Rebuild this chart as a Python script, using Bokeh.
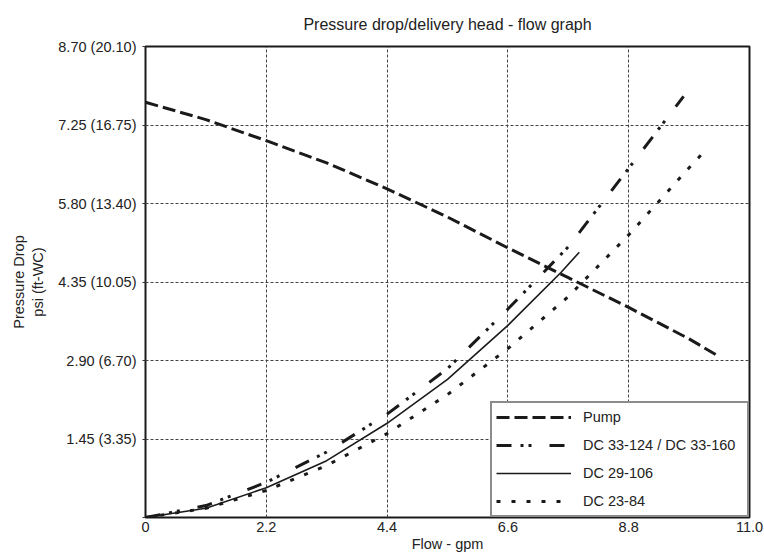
from bokeh.plotting import figure
from bokeh.models import Range1d, FixedTicker, Legend, LegendItem
from bokeh.embed import file_html
from bokeh.resources import INLINE

# ---- data ----
pump_flow = [0, 1.1, 2.2, 3.3, 4.4, 5.5, 6.6, 7.7, 8.8, 9.9, 10.45]
pump_head = [7.67, 7.35, 6.96, 6.55, 6.07, 5.55, 4.98, 4.43, 3.88, 3.30, 2.97]

dc33_flow = [0, 1.1, 2.2, 3.3, 4.4, 5.5, 6.6, 7.7, 8.8, 9.8]
dc33_dp = [0, 0.22, 0.65, 1.21, 1.91, 2.75, 3.85, 5.0, 6.45, 7.78]

dc29_flow = [0, 1.1, 2.2, 3.3, 4.4, 5.5, 6.6, 7.57, 7.9]
dc29_dp = [0, 0.17, 0.55, 1.05, 1.74, 2.55, 3.55, 4.53, 4.90]

dc23_flow = [0, 1.1, 2.2, 3.3, 4.4, 5.5, 6.6, 7.7, 8.8, 9.9, 10.25]
dc23_dp = [0, 0.17, 0.50, 0.96, 1.55, 2.27, 3.12, 4.08, 5.22, 6.46, 6.84]

x_ticks = [0, 2.2, 4.4, 6.6, 8.8, 11.0]
x_tick_labels = ["0", "2.2", "4.4", "6.6", "8.8", "11.0"]
y_ticks = [0, 1.45, 2.90, 4.35, 5.80, 7.25, 8.70]
y_tick_labels = ["", "1.45 (3.35)", "2.90 (6.70)", "4.35 (10.05)",
                 "5.80 (13.40)", "7.25 (16.75)", "8.70 (20.10)"]

series_names = ["Pump", "DC 33-124 / DC 33-160", "DC 29-106", "DC 23-84"]

FONT = "Liberation Sans"
TXT = "#222222"
FS = "14.5px"

p = figure(width=764, height=555, output_backend="svg", toolbar_location=None,
           x_range=Range1d(0, 11.0), y_range=Range1d(0, 8.70),
           min_border_left=145, min_border_right=15, min_border_top=46,
           min_border_bottom=38)

p.title.text = "Pressure drop/delivery head - flow graph"
p.title.align = "center"
p.title.text_font = FONT
p.title.text_font_size = "16px"
p.title.text_font_style = "normal"
p.title.text_color = TXT
p.title.standoff = 27

p.outline_line_color = "#1a1a1a"
p.outline_line_width = 2
p.outline_line_alpha = 1

for ax in (p.xaxis[0], p.yaxis[0]):
    ax.axis_line_color = None
    ax.major_tick_in = 0
    ax.major_tick_out = 0
    ax.minor_tick_line_color = None
    ax.major_label_text_font = FONT
    ax.major_label_text_font_size = FS
    ax.major_label_text_color = TXT
    ax.axis_label_text_font = FONT
    ax.axis_label_text_font_size = FS
    ax.axis_label_text_font_style = "normal"
    ax.axis_label_text_color = TXT

p.xaxis.ticker = FixedTicker(ticks=x_ticks)
p.xaxis.major_label_overrides = {t: l for t, l in zip(x_ticks, x_tick_labels)}
p.xaxis.axis_label = "Flow - gpm"
p.xaxis.major_label_standoff = 4
p.xaxis.axis_label_standoff = 1

p.yaxis.ticker = FixedTicker(ticks=y_ticks)
p.yaxis.major_label_overrides = {t: l for t, l in zip(y_ticks, y_tick_labels)}
p.yaxis.axis_label = "Pressure Drop\npsi (ft-WC)"
p.yaxis.major_tick_out = 3
p.yaxis.major_tick_line_color = "#333333"
p.yaxis.major_label_standoff = 6
p.yaxis.axis_label_standoff = 9

for g in (p.xgrid[0], p.ygrid[0]):
    g.grid_line_color = "#444444"
    g.grid_line_width = 1
    g.grid_line_dash = "3 2"

r_pump = p.line(pump_flow, pump_head, line_color="#1a1a1a", line_width=3,
                line_dash="13 5")
r_33 = p.line(dc33_flow, dc33_dp, line_color="#1a1a1a", line_width=3,
              line_dash="15 9 3 5 3 18")
r_29 = p.line(dc29_flow, dc29_dp, line_color="#1a1a1a", line_width=1.6)
r_23 = p.line(dc23_flow, dc23_dp, line_color="#1a1a1a", line_width=3,
              line_dash="4 11")

legend = Legend(items=[LegendItem(label=n, renderers=[r]) for n, r in
                       zip(series_names, [r_pump, r_33, r_29, r_23])],
                location="bottom_right")
legend.margin = 0
legend.padding = 4
legend.spacing = 8
legend.glyph_width = 75
legend.glyph_height = 20
legend.label_height = 20
legend.label_width = 160
legend.label_standoff = 12
legend.label_text_font = FONT
legend.label_text_font_size = FS
legend.label_text_color = TXT
legend.border_line_color = "#1a1a1a"
legend.border_line_width = 2
legend.background_fill_color = "white"
legend.background_fill_alpha = 1
p.add_layout(legend, "center")

open("out.html", "w").write(file_html(p, INLINE))
